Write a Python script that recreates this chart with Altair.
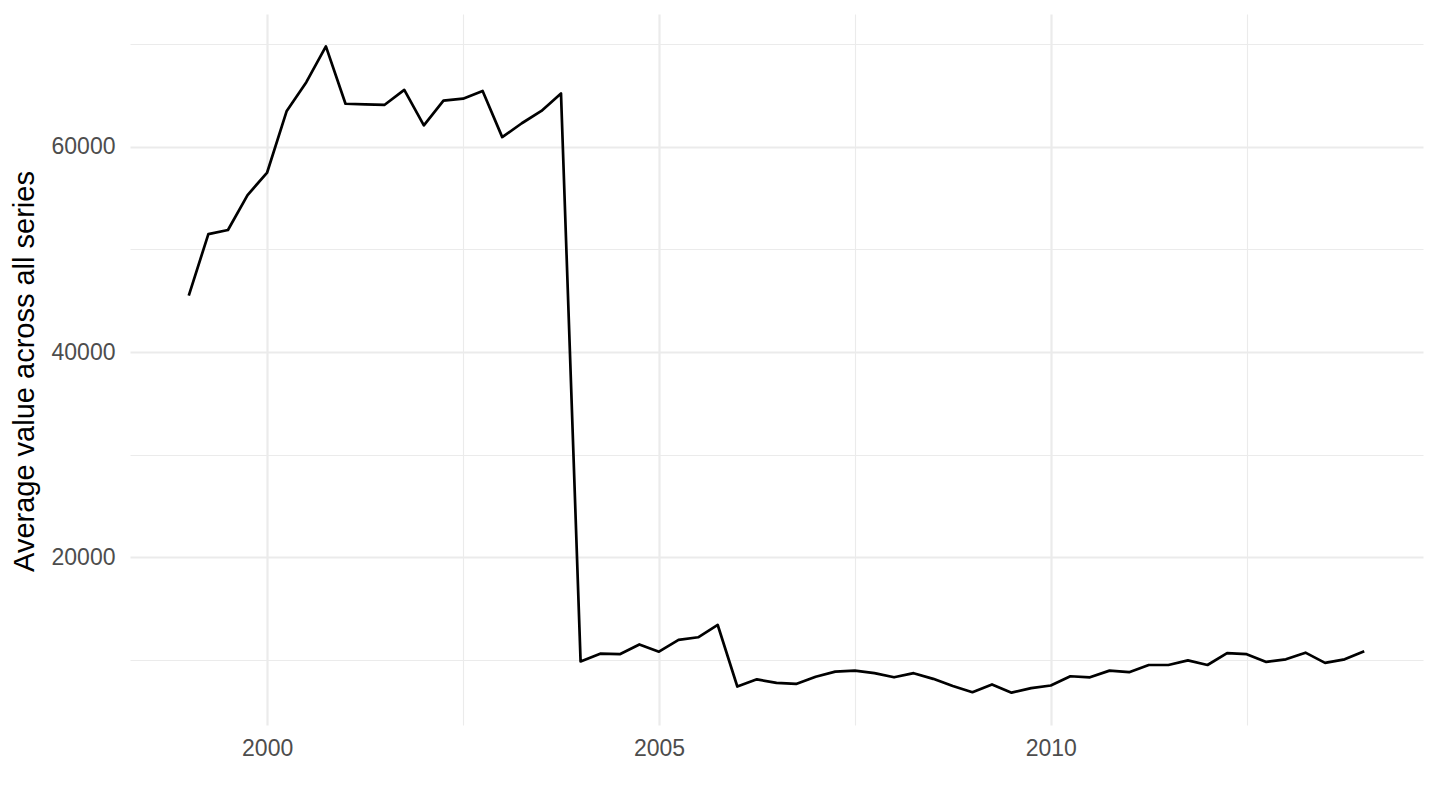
import altair as alt
import pandas as pd

# quarterly observations, 1999 Q1 .. 2014 Q1
start_year = 1999
n_quarters = 61
values = [
    45500, 51500, 51900, 55300, 57500, 63500, 66300, 69800,
    64200, 64150, 64100, 65550, 62100, 64500, 64700, 65450,
    60950, 62300, 63500, 65200, 9850, 10600, 10550, 11500,
    10800, 11950, 12200, 13400, 7400, 8100, 7750, 7650,
    8350, 8850, 8950, 8700, 8300, 8700, 8150, 7450,
    6850, 7600, 6800, 7250, 7500, 8400, 8300, 8950,
    8800, 9500, 9500, 9950, 9500, 10650, 10550, 9800,
    10050, 10700, 9700, 10050, 10850,
]
x_grid = [2000, 2002.5, 2005, 2007.5, 2010, 2012.5]
y_grid = [10000, 20000, 30000, 40000, 50000, 60000, 70000]
x_domain = [1998.25, 2014.75]
y_domain = [3650, 72950]
y_title = "Average value across all series"

time = [start_year + q / 4 for q in range(n_quarters)]
df = pd.DataFrame({"time": time, "value": values})

FONT = "Liberation Sans"
GRID = "#EBEBEB"

chart = (
    alt.Chart(df)
    .mark_line(color="black", strokeWidth=2.7, strokeJoin="round")
    .encode(
        x=alt.X(
            "time:Q",
            scale=alt.Scale(domain=x_domain, nice=False, zero=False),
            axis=alt.Axis(
                title=None,
                values=x_grid,
                format="d",
                labelExpr="datum.value % 5 === 0 ? datum.label : ''",
                labelFont=FONT,
                labelFontSize=23,
                labelColor="#4D4D4D",
                labelPadding=12,
                labelOverlap=False,
                labelFlush=False,
                ticks=False,
                tickSize=0,
                domain=False,
                grid=True,
                gridColor=GRID,
                gridWidth={"condition": {"test": "datum.value % 5 === 0", "value": 2.2}, "value": 1.1},
            ),
        ),
        y=alt.Y(
            "value:Q",
            scale=alt.Scale(domain=y_domain, nice=False, zero=False),
            axis=alt.Axis(
                title=y_title,
                titleFont=FONT,
                titleFontSize=29,
                titleFontWeight="normal",
                titleColor="black",
                titleAngle=270,
                titleAlign="center",
                titleBaseline="alphabetic",
                titleX=-97,
                titleY=357,
                values=y_grid,
                format="d",
                labelExpr="datum.value % 20000 === 0 ? datum.label : ''",
                labelFont=FONT,
                labelFontSize=23,
                labelColor="#4D4D4D",
                labelPadding=15,
                labelOverlap=False,
                labelFlush=False,
                ticks=False,
                tickSize=0,
                domain=False,
                grid=True,
                gridColor=GRID,
                gridWidth={"condition": {"test": "datum.value % 20000 === 0", "value": 2.2}, "value": 1.1},
            ),
        ),
    )
    .properties(
        width=1293,
        height=711,
        autosize=alt.AutoSizeParams(type="none"),
        padding={"left": 122, "top": 6, "right": 9, "bottom": 60},
        background="white",
    )
    .configure_view(strokeWidth=0)
)

chart.save("out.html", embed_options={"renderer": "svg", "actions": False})
